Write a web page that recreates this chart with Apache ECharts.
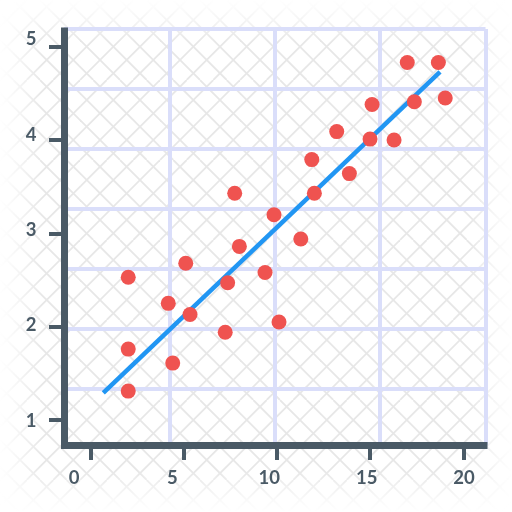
<!DOCTYPE html>
<html>
<head>
<meta charset="utf-8">
<script src="https://cdn.jsdelivr.net/npm/echarts@6/dist/echarts.min.js"></script>
<style>
html,body{margin:0;padding:0;background:#fff;}
#c{width:512px;height:512px;}
</style>
</head>
<body>
<div id="c"></div>
<script>
// ---- data ----
const xTickValues = [0, 5, 10, 15, 20];
const xTickLabels = ['0', '5', '10', '15', '20'];
const yTickValues = [1, 2, 3, 4, 5];
const yTickLabels = ['1', '2', '3', '4', '5'];
const pointX = [2.00, 2.00, 2.00, 4.15, 4.39, 5.09, 5.32, 7.21, 7.34, 7.72, 7.97, 9.35, 9.83,
                10.10, 11.27, 11.86, 12.00, 13.20, 13.88, 15.10, 14.99, 16.28, 16.99, 17.37, 18.66, 19.03];
const pointY = [2.53, 1.76, 1.31, 2.25, 1.61, 2.68, 2.13, 1.94, 2.47, 3.43, 2.86, 2.58, 3.20,
                2.05, 2.94, 3.79, 3.43, 4.09, 3.64, 4.38, 4.01, 4.00, 4.83, 4.41, 4.83, 4.45];
const fitX = [0.66, 18.75];
const fitY = [1.29, 4.73];

// ---- styling / layout ----
const AXIS = '#4a5a66';
const xLabelAt = [-0.91, 4.37, 9.58, 14.81, 20.04];
const yLabelAt = [0.99, 2.02, 3.04, 4.05, 5.08];

function labelFor(positions, labels) {
  return function (v) {
    let best = 0, bd = Infinity;
    positions.forEach((p, i) => { const d = Math.abs(p - v); if (d < bd) { bd = d; best = i; } });
    return labels[best];
  };
}

// background hatch pattern
const tile = document.createElement('canvas');
tile.width = 80; tile.height = 80;
(function () {
  const ctx = tile.getContext('2d');
  ctx.fillStyle = '#ffffff';
  ctx.fillRect(0, 0, 80, 80);
  ctx.strokeStyle = '#e7e7e7';
  ctx.lineWidth = 1.8;
  const p = 80 / 3;
  const a = 0, b = 13.33;
  for (let k = -8; k <= 12; k++) {
    const c = a + k * p;
    ctx.beginPath(); ctx.moveTo(c, 0); ctx.lineTo(c - 80, 80); ctx.stroke();
    const d = b + k * p;
    ctx.beginPath(); ctx.moveTo(d, 0); ctx.lineTo(d + 80, 80); ctx.stroke();
  }
})();

const F = 42;
function fade(x, y, w, h, x0, y0, x1, y1) {
  return {
    type: 'rect', z: -10, silent: true,
    shape: { x: x, y: y, width: w, height: h },
    style: { fill: new echarts.graphic.LinearGradient(x0, y0, x1, y1, [
      { offset: 0, color: 'rgba(255,255,255,1)' },
      { offset: 0.25, color: 'rgba(255,255,255,0.8)' },
      { offset: 1, color: 'rgba(255,255,255,0)' }
    ]) }
  };
}

const chart = echarts.init(document.getElementById('c'), null, { renderer: 'canvas' });
chart.setOption({
  backgroundColor: '#ffffff',
  animation: false,
  graphic: [
    { type: 'rect', z: -20, silent: true, shape: { x: 0, y: 0, width: 512, height: 512 },
      style: { fill: { image: tile, repeat: 'repeat' } } },
    fade(0, 0, 512, F, 0, 0, 0, 1),
    fade(0, 512 - F, 512, F, 0, 1, 0, 0),
    fade(0, 0, F, 512, 0, 0, 1, 0),
    fade(512 - F, 0, F, 512, 1, 0, 0, 0)
  ],
  grid: [
    { left: 64.5, right: 28, top: 31, bottom: 66.5, containLabel: false },
    { left: 64, right: 26.5, top: 29, bottom: 67, containLabel: false }
  ],
  xAxis: [
    {
      type: 'value', gridIndex: 0, min: -1.424, max: 21.112, z: 5,
      axisLine: { show: true, onZero: false, lineStyle: { color: AXIS, width: 7, cap: 'square' } },
      axisTick: { show: true, customValues: xTickValues, length: 14.5, lineStyle: { color: AXIS, width: 4 } },
      axisLabel: {
        show: true, customValues: xLabelAt, margin: 23,
        formatter: labelFor(xLabelAt, xTickLabels),
        color: AXIS, fontSize: 18.5, fontWeight: 'bold', fontFamily: 'Lato'
      },
      splitLine: { show: false }
    },
    {
      type: 'value', gridIndex: 1, min: 0, max: 4, interval: 1, z: 0,
      axisLine: { show: false }, axisTick: { show: false }, axisLabel: { show: false },
      splitLine: { show: true, showMinLine: false, showMaxLine: true, lineStyle: { color: '#dadefa', width: 4 } }
    }
  ],
  yAxis: [
    {
      type: 'value', gridIndex: 0, min: 0.727, max: 5.168, z: 5,
      axisLine: { show: true, onZero: false, lineStyle: { color: AXIS, width: 7, cap: 'square' } },
      axisTick: { show: true, customValues: yTickValues, length: 15.5, lineStyle: { color: AXIS, width: 4 } },
      axisLabel: {
        show: true, customValues: yLabelAt, margin: 28,
        formatter: labelFor(yLabelAt, yTickLabels),
        color: AXIS, fontSize: 18.5, fontWeight: 'bold', fontFamily: 'Lato'
      },
      splitLine: { show: false }
    },
    {
      type: 'value', gridIndex: 1, min: 0, max: 6.93, interval: 1, inverse: true, z: 0,
      axisLine: { show: false }, axisTick: { show: false }, axisLabel: { show: false },
      splitLine: { show: true, showMinLine: true, showMaxLine: false, lineStyle: { color: '#dadefa', width: 4 } }
    }
  ],
  series: [
    {
      type: 'line', xAxisIndex: 0, yAxisIndex: 0, z: 3,
      data: fitX.map((x, i) => [x, fitY[i]]),
      showSymbol: false, symbol: 'none',
      lineStyle: { color: '#2196f3', width: 4.5, cap: 'butt' },
      silent: true
    },
    {
      type: 'scatter', xAxisIndex: 0, yAxisIndex: 0, z: 4,
      data: pointX.map((x, i) => [x, pointY[i]]),
      symbolSize: 15,
      itemStyle: { color: '#ef5350', opacity: 1 },
      silent: true
    }
  ]
});
</script>
</body>
</html>
